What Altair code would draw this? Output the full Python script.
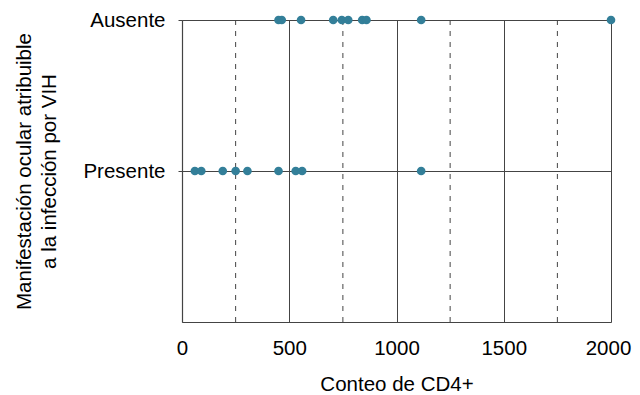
import altair as alt
import pandas as pd

# Data
ausente_cd4 = [450, 465, 555, 705, 745, 775, 840, 860, 1115, 2000]
presente_cd4 = [60, 90, 190, 250, 305, 450, 530, 560, 1115]
categories = ["Ausente", "Presente"]
dashed_ticks = [250, 750, 1250, 1750]
solid_ticks = [0, 500, 1000, 1500, 2000]

df = pd.DataFrame({
    "cd4": ausente_cd4 + presente_cd4,
    "grupo": [categories[0]] * len(ausente_cd4) + [categories[1]] * len(presente_cd4),
})
dash_df = pd.DataFrame({"v": dashed_ticks})

FONT = "Liberation Sans"
FS = 20.5
LINE = "#444444"

x_scale = alt.Scale(domain=[0, 2000], nice=False, zero=True)
y_scale = alt.Scale(domain=[0, 2], nice=False)

dashed = alt.Chart(dash_df).mark_rule(color=LINE, strokeWidth=1, strokeDash=[5, 6]).encode(
    x=alt.X("v:Q", scale=x_scale)
)

points = alt.Chart(df).transform_calculate(
    yv="datum.grupo == 'Ausente' ? 2 : 1"
).mark_circle(size=75, opacity=1, color="#337f99").encode(
    x=alt.X("cd4:Q", scale=x_scale,
            axis=alt.Axis(title="Conteo de CD4+", values=solid_ticks, format="d", grid=True,
                          gridColor=LINE, gridOpacity=1, gridWidth=1,
                          domainColor=LINE, domainWidth=1.2, ticks=False,
                          labelFlush=False, labelOverlap=False,
                          labelOffset={"condition": {"test": "datum.value == 2000", "value": -3},
                                       "value": 0},
                          labelPadding=16, titlePadding=16,
                          labelFont=FONT, labelFontSize=FS, labelColor="#000",
                          titleFont=FONT, titleFontSize=FS, titleFontWeight="normal",
                          titleColor="#000")),
    y=alt.Y("yv:Q", scale=y_scale,
            axis=alt.Axis(title=["Manifestación ocular atribuible", "a la infección por VIH"],
                          values=[1, 2],
                          labelExpr="datum.value == 2 ? 'Ausente' : 'Presente'",
                          grid=True, gridColor=LINE, gridOpacity=1, gridWidth=1,
                          domainColor=LINE, domainWidth=1.2,
                          ticks=True, tickSize=4, tickColor=LINE,
                          labelPadding=13, titlePadding=23,
                          labelFont=FONT, labelFontSize=FS, labelColor="#000",
                          titleFont=FONT, titleFontSize=FS, titleFontWeight="normal",
                          titleColor="#000", titleLineHeight=25)),
)

chart = alt.layer(dashed, points).properties(
    width=429, height=302,
    autosize=alt.AutoSizeParams(type="none"),
    padding={"left": 174, "top": 12, "right": 21, "bottom": 73},
).configure_view(stroke=None).configure(background="white")

chart.save("out.html", embed_options={"renderer": "svg", "actions": False})
